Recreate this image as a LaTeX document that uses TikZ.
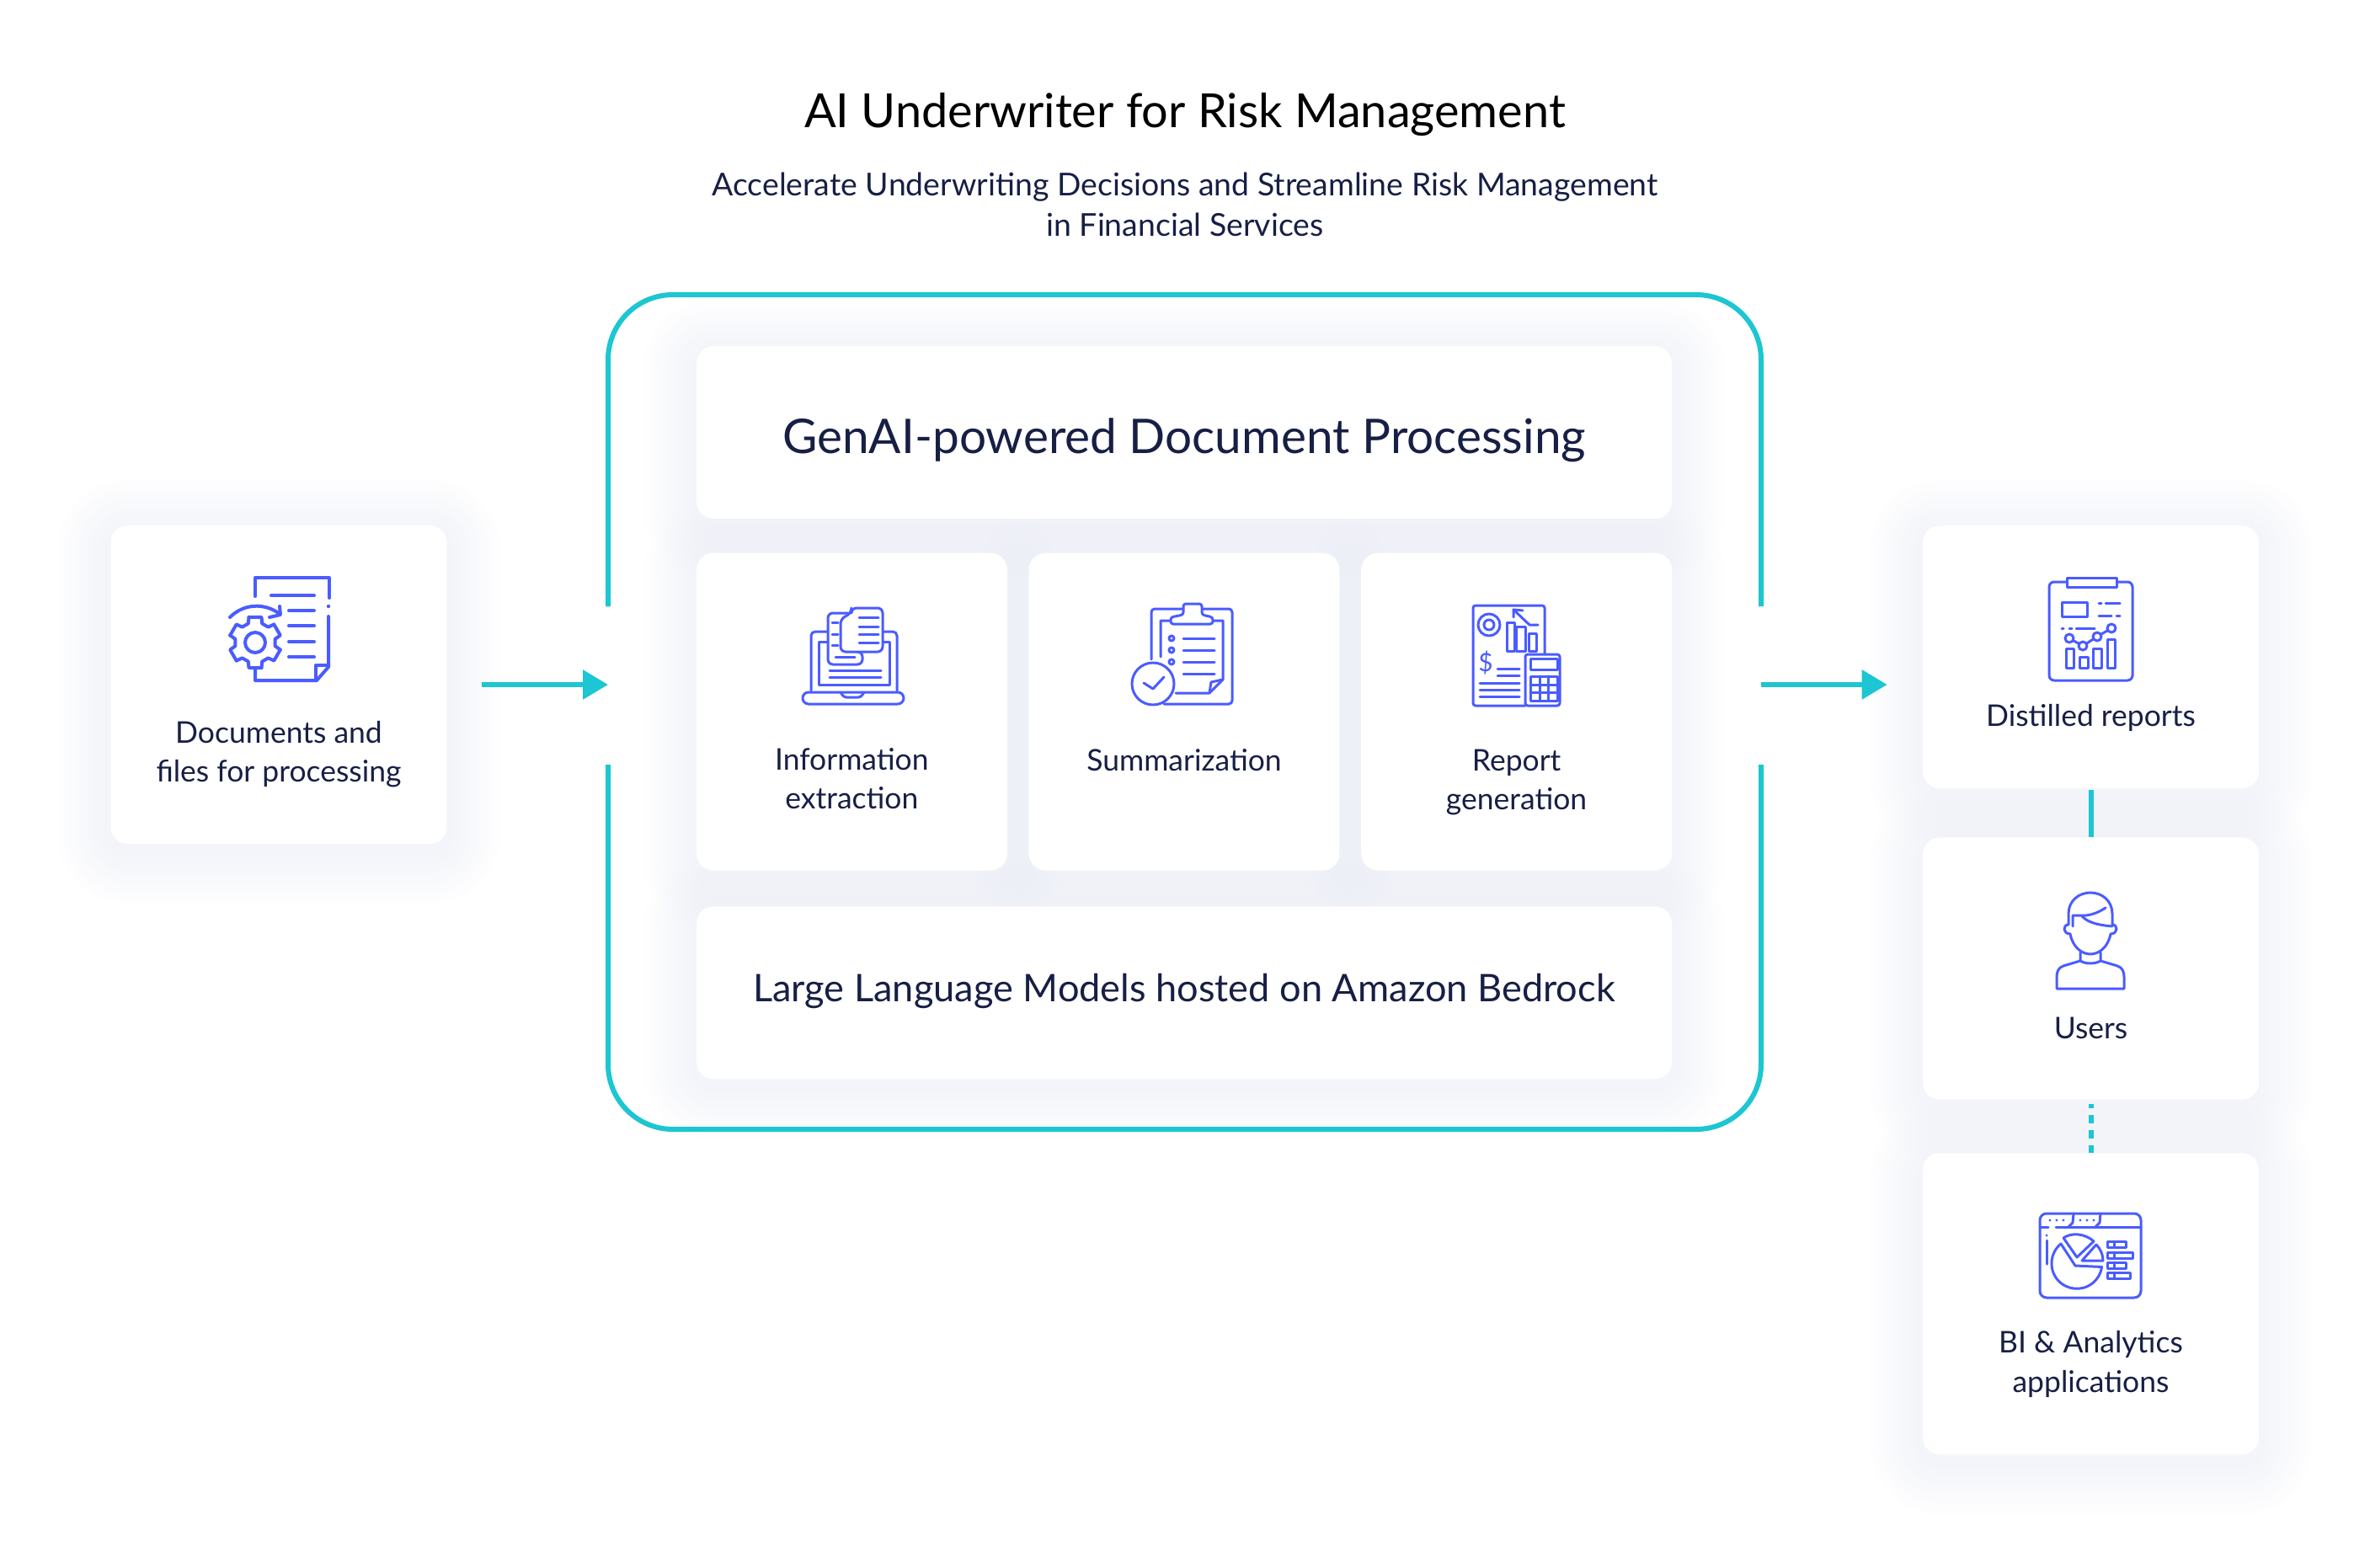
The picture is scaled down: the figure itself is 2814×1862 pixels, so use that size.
\documentclass[tikz,border=0pt]{standalone}
\usepackage{fontspec}
\setmainfont{Lato}
\usepackage{tikz}
\usetikzlibrary{positioning,calc,arrows.meta,backgrounds}

\definecolor{teal}{HTML}{1CC6D2}
\definecolor{iconblue}{HTML}{4A5CFF}
\definecolor{ink}{HTML}{171F45}
\definecolor{shadowtint}{HTML}{DFE2F0}

\newcommand{\softshadow}[1]{%
    \begin{scope}[on background layer]
    \foreach \e in {4,8,...,64} {
        \fill[shadowtint, fill opacity=0.027, rounded corners={(20+\e)*0.02cm}]
            ($(#1.north west)+(-\e,8-\e)$) rectangle ($(#1.south east)+(\e,8+\e)$);
    }
    \end{scope}
}

\begin{document}
\begin{tikzpicture}[
        x=0.02cm, y=-0.02cm,
        node distance=0.5cm and 0.5cm,
        card/.style={
            fill=white,
            rounded corners=0.4cm,
            align=center,
            text=ink,
            inner sep=0pt
        },
        midcard/.style={card, minimum width=7.38cm, minimum height=7.54cm},
        widecard/.style={card, minimum width=23.16cm, minimum height=4.1cm},
        sidecard/.style={card, minimum width=7.98cm},
        cardtext/.style={
            align=center,
            text=ink,
            font=\fontsize{20.2}{26.4}\selectfont
        },
        frameline/.style={draw=teal, line width=0.12cm, rounded corners=1.54cm},
        arrow/.style={-{Triangle[length=0.6cm, width=0.68cm]}, draw=teal, line width=0.12cm},
        link/.style={draw=teal, line width=0.12cm},
        icon/.style={color=iconblue, line width=0.06cm, line cap=round, line join=round}
    ]
    \useasboundingbox (0,0) rectangle (2814,1862);

    % Heading
    \node (title) at (1407,136) [text=black, font=\fontsize{31.8}{38}\selectfont] {AI Underwriter for Risk Management};
    \node (subtitle) at (1407,243) [align=center, text=ink, font=\fontsize{21.3}{27.3}\selectfont] {%
    Accelerate Underwriting Decisions and Streamline Risk Management\\
    in Financial Services
    };

    % Frame, open where the arrows pass
    \coordinate (gapin) at (722,813);
    \coordinate (gapout) at (2091,813);
    \draw[frameline] (722,720) -- (722,350) -- (2091,350) -- (2091,720);
    \draw[frameline] (722,908) -- (722,1341) -- (2091,1341) -- (2091,908);

    % Row 1
    \node[widecard] (genai) at (1406,513.5) {};
    \node (genaitext) at (1406,523) [text=ink, font=\fontsize{32.3}{38}\selectfont] {GenAI-powered Document Processing};

    % Row 2
    \node[midcard] (summary) [below=0.8cm of genai] {};
    \node[midcard] (extract) [left=of summary] {};
    \node[midcard] (report) [right=of summary] {};

    % Row 3
    \node[widecard] (bedrock) [below=0.84cm of summary] {};
    \node (bedrocktext) at ($(bedrock)+(0,-2)$) [text=ink, font=\fontsize{25.7}{30}\selectfont] {Large Language Models hosted on Amazon Bedrock};

    % Left and right cards
    \node[sidecard, minimum height=7.56cm] (docs) at (331,813) {};
    \node[sidecard, minimum height=6.24cm] (distilled) at (2482.5,780) {};
    \node[sidecard, minimum height=6.22cm] (users) [below=1.16cm of distilled] {};
    \node[sidecard, minimum height=7.16cm] (bi) [below=1.26cm of users] {};

    \softshadow{genai}
    \softshadow{summary}
    \softshadow{extract}
    \softshadow{report}
    \softshadow{bedrock}
    \softshadow{docs}
    \softshadow{distilled}
    \softshadow{users}
    \softshadow{bi}

    % Card labels
    \node[cardtext] (docstext) at ($(docs.north)+(0,272)$) {Documents and\\files for processing};
    \node[cardtext] (extracttext) at ($(extract.north)+(0,268)$) {Information\\extraction};
    \node[cardtext] (summarytext) at ($(summary.north)+(0,246)$) {Summarization};
    \node[cardtext] (reporttext) at ($(report.north)+(0,273)$) {Report\\generation};
    \node[cardtext] (distilledtext) at ($(distilled.north)+(0,229)$) {Distilled reports};
    \node[cardtext] (userstext) at ($(users.north)+(0,227)$) {Users};
    \node[cardtext] (bitext) at ($(bi.north)+(0,251)$) {BI \& Analytics\\applications};

    % Arrows
    \draw[arrow, shorten <=0.82cm] (docs.east) -- (gapin);
    \draw[arrow, shorten >=0.84cm] (gapout) -- (gapout -| distilled.west);
    \draw[link, shorten <=0.04cm] (distilled) -- (users);
    \draw[link, dash pattern=on 0.2cm off 0.16cm, dash phase=0.1cm, shorten <=0.1cm] (users) -- (bi);

    % Icon: document and gear
    \begin{scope}[icon, line width=0.08cm]
    \draw (303,708) -- (303,686) -- (391,686) -- (391,710);
    \fill (390,720) circle (2.2);
    \draw (390,732) -- (390,792) -- (376,808) -- (303,808) -- (303,795);
    \draw (375,808) -- (375,790) -- (390,790);
    \draw (322,707) -- (373,707);
    \foreach \y in {725,743,762,780} {
        \draw (343,\y) -- (373,\y);
    }
    \draw (273,733) .. controls (290,716) and (315,716) .. (332,729);
    \draw (332,720) -- (333,730) -- (320,733);
    \begin{scope}[shift={(303,763)}]
    \draw (0,0) circle (12);
    \foreach \a in {90,150,210,270,330,30} {
        \draw (\a-14:31) -- (\a+14:31) -- (\a+20:24) -- (\a+40:24) -- (\a+46:31);
    }
    \end{scope}
    \end{scope}

    % Icon: laptop and papers
    \begin{scope}[icon]
    \draw[rounded corners=0.1cm] (963,820) -- (963,750) -- (1065,750) -- (1065,820);
    \draw (972,762) -- (972,813) -- (1056,813) -- (1056,762) -- cycle;
    \draw[rounded corners=0.14cm] (953,822) rectangle (1073,836);
    \draw[rounded corners=0.06cm] (998,822) -- (1002,828) -- (1022,828) -- (1026,822);
    \filldraw[fill=white, rounded corners=0.12cm] (1024,774) -- (1024,789) -- (983,789) -- (983,728) -- (1012,728) -- (1012,774) -- cycle;
    \filldraw[fill=white, rounded corners=0.12cm] (998,735) -- (998,774) -- (1048,774) -- (1048,722) -- (1011,722) -- (1011,728) -- cycle;
    \foreach \y in {733,744,753,763} {
        \draw (1020,\y) -- (1043,\y);
    }
    \foreach \y in {739,753,766} {
        \draw (988,\y) -- (995,\y);
    }
    \draw (992,780) -- (1015,780);
    \draw (985,796) -- (1046,796);
    \draw (985,804) -- (1046,804);
    \end{scope}

    % Icon: clipboard and check
    \begin{scope}[icon]
    \draw[rounded corners=0.08cm] (1367,783) -- (1367,723) -- (1463,723) -- (1463,836) -- (1382,836);
    \draw (1378,780) -- (1378,737) -- (1452,737) -- (1452,807) -- (1436,823) -- (1396,823);
    \draw (1452,807) -- (1438,810) -- (1436,823);
    \filldraw[fill=white, rounded corners=0.06cm] (1390,741) -- (1390,733) -- (1405,730) -- (1405,717) -- (1427,717) -- (1427,730) -- (1440,733) -- (1440,741) -- cycle;
    \foreach \y in {758,772,786} {
        \draw (1391,\y) circle (3);
        \draw (1405,\y) -- (1442,\y);
    }
    \draw (1405,800) -- (1442,800);
    \filldraw[fill=white] (1369,812) circle (25);
    \draw (1358,811) -- (1369,818) -- (1382,804);
    \end{scope}

    % Icon: report and calculator
    \begin{scope}[icon]
    \draw[rounded corners=0.06cm] (1811,838) -- (1749,838) -- (1749,719) -- (1834,719) -- (1834,777);
    \draw[rounded corners=0.06cm] (1811,777) rectangle (1852,838);
    \draw (1817,782) rectangle (1849,795);
    \draw (1817,803) rectangle (1849,832);
    \foreach \x in {1828,1838} {
        \draw (\x,803) -- (\x,832);
    }
    \foreach \y in {813,822} {
        \draw (1817,\y) -- (1849,\y);
    }
    \draw (1768,742) circle (13);
    \draw (1768,742) circle (6);
    \draw (1797,724) -- (1816,742) -- (1826,742);
    \draw (1797,733) -- (1797,724) -- (1808,725);
    \draw (1789,773) rectangle (1798,739);
    \draw (1800,773) rectangle (1811,744);
    \draw (1815,773) rectangle (1824,752);
    \node (dollar) at (1764,787) [font=\fontsize{17}{20}\selectfont] {\$};
    \foreach \y in {794,802} {
        \draw (1778,\y) -- (1804,\y);
    }
    \foreach \y in {811,819,827} {
        \draw (1757,\y) -- (1804,\y);
    }
    \end{scope}

    % Icon: clipboard with chart
    \begin{scope}[icon]
    \draw[rounded corners=0.12cm] (2433,691) rectangle (2532,808);
    \filldraw[fill=white] (2454,686) rectangle (2513,697);
    \draw (2448,715) rectangle (2478,732);
    \draw (2492,716) -- (2495,716);
    \draw (2500,716) -- (2517,716);
    \draw (2492,731) -- (2507,731);
    \draw (2513,731) -- (2517,731);
    \draw (2448,746) -- (2450,746);
    \draw (2457,746) -- (2460,746);
    \draw (2465,746) -- (2487,746);
    \draw (2457,758) -- (2473,767) -- (2490,756) -- (2507,746);
    \foreach \x/\y in {2457/758,2473/767,2490/756,2507/746} {
        \filldraw[fill=white] (\x,\y) circle (5);
    }
    \draw (2453,770) rectangle (2462,793);
    \draw (2469,780) rectangle (2479,793);
    \draw (2485,770) rectangle (2495,793);
    \draw (2502,759) rectangle (2511,793);
    \end{scope}

    % Icon: person
    \begin{scope}[icon]
    \draw (2456,1098) -- (2456,1085) .. controls (2456,1070) and (2468,1060) .. (2482,1060) .. controls (2496,1060) and (2508,1070) .. (2508,1085) -- (2508,1098);
    \draw (2461,1100) -- (2461,1087) -- (2477,1087) .. controls (2486,1086) and (2494,1082) .. (2500,1078);
    \draw (2472,1088) .. controls (2478,1094) and (2486,1098) .. (2508,1100);
    \draw (2456,1098) .. controls (2449,1098) and (2449,1109) .. (2458,1109) .. controls (2461,1125) and (2472,1133) .. (2482,1133) .. controls (2492,1133) and (2503,1125) .. (2506,1109) .. controls (2515,1109) and (2515,1098) .. (2508,1098);
    \draw (2470,1131) -- (2470,1141) .. controls (2476,1145) and (2488,1145) .. (2494,1141) -- (2494,1131);
    \draw (2470,1141) -- (2450,1147) .. controls (2444,1149) and (2442,1154) .. (2442,1160) -- (2442,1174) -- (2522,1174) -- (2522,1160) .. controls (2522,1154) and (2520,1149) .. (2514,1147) -- (2494,1141);
    \end{scope}

    % Icon: window with pie chart
    \begin{scope}[icon]
    \draw[rounded corners=0.16cm] (2422,1441) rectangle (2542,1541);
    \draw (2422,1457) -- (2432,1457);
    \draw (2441,1457) -- (2542,1457);
    \draw (2462,1441) -- (2461,1452) -- (2456,1457);
    \draw (2494,1441) -- (2493,1452) -- (2488,1457);
    \foreach \x in {2434,2442,2450,2470,2478,2486} {
        \fill (\x,1449) circle (1.6);
    }
    \fill (2430,1467) circle (1.6);
    \draw (2430,1473) -- (2430,1501);
    \draw (2447,1477) arc[start angle=231, end angle=8, radius=30] -- (2464,1503) -- cycle;
    \draw (2450,1470) -- (2466,1493) -- (2486,1474) .. controls (2476,1465) and (2460,1463) .. (2450,1470);
    \draw (2489,1478) -- (2472,1497) -- (2497,1497) .. controls (2497,1490) and (2494,1483) .. (2489,1478);
    \foreach \y/\r in {1474/2524,1487/2532,1499/2524,1511/2529} {
        \draw (2502,\y) rectangle (\r,\y+7);
        \draw (2510,\y) -- (2510,\y+7);
    }
    \end{scope}

\end{tikzpicture}
\end{document}
